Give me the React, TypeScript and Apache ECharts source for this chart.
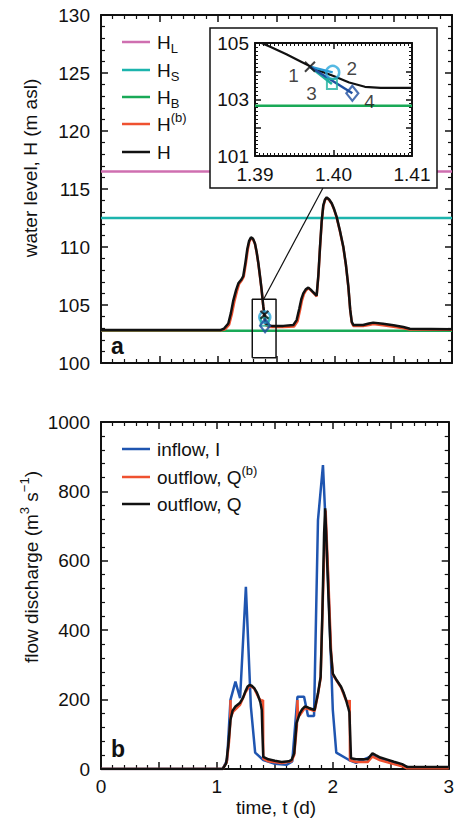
import React, { useEffect, useRef } from "react";
import * as echarts from "echarts";

const FONT = "'Liberation Sans', Arial, Helvetica, sans-serif";
const INK = "#111111";

// Colours
const C_HL = "#cf6fb0";
const C_HS = "#1cb4ad";
const C_HB = "#19a957";
const C_RED = "#ef5130";
const C_BLUE = "#1f55b0";
const C_CIRCLE = "#2aa8dc";
const C_SQUARE = "#1fb0a0";
const C_DIAMOND = "#1f4fa0";

// Reference levels (m asl)
const levelHL = 116.5;
const levelHS = 112.5;
const levelHB = 102.78;

// Water level H (black)
const hTime = [0, 1.02, 1.05, 1.088, 1.11, 1.131, 1.155, 1.174, 1.2, 1.216, 1.235, 1.25, 1.265, 1.282, 1.3, 1.316, 1.33, 1.345, 1.36, 1.373, 1.387, 1.397, 1.4, 1.405, 1.43, 1.459, 1.558, 1.644, 1.672, 1.695, 1.712, 1.729, 1.75, 1.772, 1.79, 1.809, 1.843, 1.858, 1.872, 1.886, 1.9, 1.915, 1.929, 1.95, 1.972, 1.993, 2.014, 2.04, 2.071, 2.093, 2.114, 2.13, 2.143, 2.157, 2.24, 2.29, 2.327, 2.41, 2.5, 2.584, 2.64, 3.0];
const hLevel = [102.84, 102.84, 102.95, 103.4, 104.3, 105.4, 106.3, 106.87, 107.2, 107.5, 108.7, 109.8, 110.5, 110.83, 110.7, 110.3, 109.6, 108.6, 107.4, 106.3, 104.9, 104.15, 103.9, 103.45, 103.25, 103.2, 103.2, 103.28, 103.7, 104.7, 105.5, 106.0, 106.35, 106.5, 106.35, 106.15, 105.8, 107.6, 110.03, 112.2, 113.6, 114.1, 114.28, 114.1, 113.77, 113.25, 112.6, 111.5, 110.03, 108.5, 106.6, 104.6, 103.56, 103.28, 103.28, 103.4, 103.48, 103.38, 103.25, 103.1, 102.95, 102.92];

// Water level H^(b) (red)
const hbTime = [0, 1.03, 1.06, 1.095, 1.118, 1.14, 1.162, 1.18, 1.205, 1.22, 1.24, 1.255, 1.268, 1.285, 1.3, 1.316, 1.33, 1.345, 1.36, 1.373, 1.387, 1.4, 1.41, 1.43, 1.459, 1.558, 1.65, 1.68, 1.7, 1.718, 1.735, 1.755, 1.775, 1.79, 1.809, 1.843, 1.858, 1.872, 1.886, 1.9, 1.915, 1.929, 1.95, 1.972, 1.993, 2.014, 2.04, 2.071, 2.093, 2.114, 2.13, 2.143, 2.157, 2.24, 2.29, 2.327, 2.41, 2.5, 2.584, 2.64, 3.0];
const hbLevel = [102.82, 102.82, 102.9, 103.3, 104.2, 105.3, 106.2, 106.8, 107.15, 107.45, 108.7, 109.8, 110.45, 110.78, 110.65, 110.25, 109.55, 108.55, 107.35, 106.25, 104.85, 103.75, 103.25, 103.12, 103.1, 103.1, 103.15, 103.6, 104.5, 105.4, 105.95, 106.3, 106.45, 106.3, 106.1, 105.75, 107.5, 109.95, 112.1, 113.5, 114.05, 114.22, 114.05, 113.72, 113.2, 112.55, 111.45, 109.98, 108.45, 106.55, 104.55, 103.5, 103.18, 103.18, 103.28, 103.36, 103.26, 103.12, 103.0, 102.88, 102.86];

// Detail of H around t = 1.40 d
const detailTime = [1.39, 1.392, 1.394, 1.396, 1.398, 1.4, 1.402, 1.404, 1.406, 1.41];
const detailLevel = [105.1, 104.86, 104.6, 104.32, 104.04, 103.83, 103.6, 103.45, 103.41, 103.41];

// Iteration points 1-4
const pointLabels = ["1", "2", "3", "4"];
const pointTime = [1.397, 1.3999, 1.3998, 1.4024];
const pointLevel = [104.16, 103.96, 103.55, 103.22];

// Zoom window and connector
const zoomTime = [1.293, 1.496];
const zoomLevel = [100.46, 105.5];
const connectorTime = [1.39, 1.897];
const connectorLevel = [105.5, 115.09];

// Inflow I (blue)
const iTime = [0, 1.05, 1.088, 1.117, 1.16, 1.2, 1.25, 1.293, 1.33, 1.4, 1.5, 1.6, 1.65, 1.695, 1.752, 1.786, 1.838, 1.872, 1.915, 1.958, 2.0, 2.03, 2.14, 2.2, 2.34, 2.45, 2.6, 2.65, 3.0];
const iFlow = [0, 0, 26, 199, 252, 204, 525, 180, 47, 26, 15, 12, 22, 208, 208, 153, 153, 717, 876, 560, 170, 47, 26, 18, 38, 25, 10, 5, 5];

// Outflow Q (black)
const qTime = [0, 1.05, 1.08, 1.097, 1.117, 1.135, 1.16, 1.2, 1.225, 1.245, 1.265, 1.282, 1.3, 1.322, 1.345, 1.359, 1.375, 1.387, 1.393, 1.4, 1.444, 1.5, 1.558, 1.62, 1.644, 1.667, 1.687, 1.715, 1.735, 1.758, 1.78, 1.8, 1.843, 1.872, 1.895, 1.91, 1.925, 1.934, 1.945, 1.957, 1.98, 2.0, 2.035, 2.071, 2.095, 2.114, 2.13, 2.143, 2.157, 2.2, 2.3, 2.342, 2.37, 2.41, 2.47, 2.527, 2.598, 2.64, 3.0];
const qFlow = [0, 0, 16, 64, 141, 168, 180, 191, 205, 223, 238, 242, 240, 233, 220, 208, 192, 170, 100, 35, 28, 24, 20, 22, 26, 45, 132, 160, 172, 180, 178, 175, 170, 218, 266, 450, 680, 751, 660, 545, 350, 275, 255, 237, 218, 199, 180, 164, 31, 28, 28, 45, 40, 33, 27, 21, 14, 6, 6];

// Outflow Q^(b) (red)
const qbTime = [0, 1.05, 1.085, 1.105, 1.115, 1.117, 1.12, 1.14, 1.16, 1.2, 1.245, 1.282, 1.322, 1.359, 1.387, 1.398, 1.4, 1.444, 1.558, 1.644, 1.667, 1.69, 1.695, 1.7, 1.715, 1.758, 1.8, 1.843, 1.872, 1.895, 1.915, 1.938, 1.96, 1.985, 2.0, 2.071, 2.114, 2.143, 2.146, 2.148, 2.2, 2.3, 2.342, 2.41, 2.527, 2.598, 2.64, 3.0];
const qbFlow = [0, 0, 20, 80, 130, 199, 150, 165, 172, 185, 220, 240, 232, 206, 195, 199, 30, 22, 17, 22, 40, 125, 199, 150, 155, 176, 172, 167, 215, 262, 500, 745, 560, 340, 272, 235, 198, 190, 199, 25, 20, 20, 36, 25, 14, 8, 2, 2];

const zip = (a: number[], b: number[]) => a.map((v, i) => [v, b[i]]);

const axisCommon = (z = 0) => ({
  type: "value" as const,
  z,
  axisLine: { show: true, onZero: false, lineStyle: { color: INK, width: 2 } },
  axisTick: { show: true, inside: true, length: 7, lineStyle: { color: INK, width: 1.5 } },
  minorTick: { show: true, length: 4, lineStyle: { color: INK, width: 1.2 } },
  splitLine: { show: false },
  minorSplitLine: { show: false },
  axisLabel: { show: false, color: INK, fontSize: 19, fontFamily: FONT },
});

const plainLabel = (margin: number) => ({
  show: true,
  color: INK,
  fontSize: 19,
  fontFamily: FONT,
  margin,
  formatter: (v: number) => String(v),
});

const hollow = (color: string, width = 2) => ({ color: "rgba(0,0,0,0)", borderColor: color, borderWidth: width });

const lineSeries = (data: number[][], color: string, xi: number, yi: number, width = 2.5, z = 2) => ({
  type: "line" as const,
  data,
  xAxisIndex: xi,
  yAxisIndex: yi,
  showSymbol: false,
  symbol: "none",
  lineStyle: { color, width },
  z,
  silent: true,
});

const markerSeries = (xi: number, yi: number, z: number, withLabels: boolean, size: number) => {
  const defs = [
    { symbol: "circle", size: size + 1, style: hollow(C_CIRCLE, 2.5), pos: "right", off: [1, -4] },
    { symbol: "rect", size: size - 2, style: hollow(C_SQUARE, 2), pos: "left", off: [-4, 10] },
    { symbol: "diamond", size: [size, size + 3], style: hollow(C_DIAMOND, 2.2), pos: "right", off: [0, 8] },
    { symbol: "path://M0,0L10,10M10,0L0,10", size: size - 2, style: { color: "rgba(0,0,0,0)", borderColor: INK, borderWidth: 2 }, pos: "left", off: [0, 9] },
  ];
  const order = [1, 2, 3, 0];
  return defs.map((d, k) => {
    const i = order[k];
    return {
      type: "scatter" as const,
      xAxisIndex: xi,
      yAxisIndex: yi,
      z,
      silent: true,
      symbol: d.symbol,
      symbolSize: d.size,
      itemStyle: d.style,
      data: [[pointTime[i], pointLevel[i]]],
      label: {
        show: withLabels,
        formatter: pointLabels[i],
        position: d.pos,
        offset: d.off,
        color: INK,
        fontSize: 19,
        fontFamily: FONT,
      },
    };
  });
};

const txt = { fill: INK, stroke: "none", lineWidth: 0, fontFamily: FONT, fontWeight: "normal" };

export default function App() {
  const ref = useRef<HTMLDivElement>(null);

  useEffect(() => {
    if (!ref.current) return;
    const chart = echarts.init(ref.current, null, { renderer: "svg" });

    const intLabel = (v: number) => (Math.abs(v - Math.round(v)) < 1e-6 ? String(Math.round(v)) : "");

    const richSub = {
      a: { fontSize: 19, fontFamily: FONT, fill: INK, lineHeight: 26, verticalAlign: "middle" },
      sub: { fontSize: 13, fontFamily: FONT, fill: INK, lineHeight: 26, verticalAlign: "bottom" },
      sup: { fontSize: 13, fontFamily: FONT, fill: INK, lineHeight: 26, verticalAlign: "top" },
    };

    const legendItem = (y: number, color: string, text: string) => [
      { type: "line", z: 10, shape: { x1: 122, y1: y, x2: 150, y2: y }, style: { stroke: color, lineWidth: 2.5 } },
      { type: "text", z: 10, x: 157, y, style: { text, rich: richSub, ...txt, fontSize: 19, verticalAlign: "middle", align: "left" } },
    ];

    const minor5 = { ...axisCommon().minorTick, splitNumber: 5 };
    const insetTick = { show: true, inside: true, length: 6, lineStyle: { color: INK, width: 1.5 } };

    const option: any = {
      animation: false,
      backgroundColor: "#ffffff",
      grid: [
        { left: 101, top: 15, width: 351, height: 348 },
        { left: 101, top: 422, width: 351, height: 347 },
        { left: 255, top: 43, width: 157, height: 113, z: 6 },
      ],
      xAxis: [
        { ...axisCommon(), gridIndex: 0, position: "bottom", min: 0, max: 3, interval: 0.5, minorTick: minor5 },
        { ...axisCommon(), gridIndex: 0, position: "top", min: 0, max: 3, interval: 0.5, minorTick: minor5 },
        {
          ...axisCommon(), gridIndex: 1, position: "bottom", min: 0, max: 3, interval: 0.5, minorTick: minor5,
          axisLabel: { ...plainLabel(8), formatter: intLabel },
        },
        { ...axisCommon(), gridIndex: 1, position: "top", min: 0, max: 3, interval: 0.5, minorTick: minor5 },
        {
          ...axisCommon(6), gridIndex: 2, position: "bottom", min: 1.39, max: 1.41, interval: 0.01,
          axisTick: insetTick,
          minorTick: { show: true, length: 3, splitNumber: 20, lineStyle: { color: INK, width: 1 } },
          axisLabel: { ...plainLabel(9), formatter: (v: number) => v.toFixed(2) },
        },
        {
          ...axisCommon(6), gridIndex: 2, position: "top", min: 1.39, max: 1.41, interval: 0.01,
          axisTick: insetTick,
          minorTick: { show: true, length: 3, splitNumber: 20, lineStyle: { color: INK, width: 1 } },
        },
      ],
      yAxis: [
        { ...axisCommon(), gridIndex: 0, position: "left", min: 100, max: 130, interval: 5, minorTick: minor5, axisLabel: plainLabel(11) },
        { ...axisCommon(), gridIndex: 0, position: "right", min: 100, max: 130, interval: 5, minorTick: minor5 },
        { ...axisCommon(), gridIndex: 1, position: "left", min: 0, max: 1000, interval: 200, minorTick: minor5, axisLabel: plainLabel(11) },
        { ...axisCommon(), gridIndex: 1, position: "right", min: 0, max: 1000, interval: 200, minorTick: minor5 },
        {
          ...axisCommon(6), gridIndex: 2, position: "left", min: 101, max: 105, interval: 1,
          axisTick: insetTick,
          minorTick: { show: true, length: 3, splitNumber: 7, lineStyle: { color: INK, width: 1 } },
          axisLabel: { ...plainLabel(6), formatter: (v: number) => (Math.round(v) % 2 === 1 ? String(v) : "") },
        },
        {
          ...axisCommon(6), gridIndex: 2, position: "right", min: 101, max: 105, interval: 1,
          axisTick: insetTick,
          minorTick: { show: true, length: 3, splitNumber: 7, lineStyle: { color: INK, width: 1 } },
        },
      ],
      graphic: [
        // inset frame
        { type: "rect", z: 4, shape: { x: 210, y: 28, width: 227, height: 160 }, style: { fill: "#ffffff", stroke: INK, lineWidth: 1.5 } },
        // axis titles
        { type: "text", z: 10, x: 30, y: 168, rotation: Math.PI / 2, style: { text: "water level, H (m asl)", ...txt, fontSize: 19, align: "center", verticalAlign: "middle" } },
        {
          type: "text", z: 10, x: 31, y: 567, rotation: Math.PI / 2,
          style: { text: "{a|flow discharge (m}{sup|3}{a| s}{sup|−1}{a|)}", rich: richSub, ...txt, fontSize: 19, align: "center", verticalAlign: "middle" },
        },
        { type: "text", z: 10, x: 276, y: 807, style: { text: "time, t (d)", ...txt, fontSize: 19, align: "center", verticalAlign: "middle" } },
        // panel letters
        { type: "text", z: 10, x: 111, y: 346, style: { text: "a", ...txt, fontSize: 23, fontWeight: "bold", align: "left", verticalAlign: "middle" } },
        { type: "text", z: 10, x: 111, y: 749, style: { text: "b", ...txt, fontSize: 23, fontWeight: "bold", align: "left", verticalAlign: "middle" } },
        // legend, panel a
        ...legendItem(42, C_HL, "{a|H}{sub|L}"),
        ...legendItem(70, C_HS, "{a|H}{sub|S}"),
        ...legendItem(97, C_HB, "{a|H}{sub|B}"),
        ...legendItem(124, C_RED, "{a|H}{sup|(b)}"),
        ...legendItem(152, INK, "{a|H}"),
        // legend, panel b
        ...legendItem(449, C_BLUE, "{a|inflow, I}"),
        ...legendItem(477, C_RED, "{a|outflow, Q}{sup|(b)}"),
        ...legendItem(504, INK, "{a|outflow, Q}"),
      ],
      series: [
        // panel a
        lineSeries([[0, levelHL], [3, levelHL]], C_HL, 0, 0, 2.5),
        lineSeries([[0, levelHS], [3, levelHS]], C_HS, 0, 0, 2.5),
        lineSeries([[0, levelHB], [3, levelHB]], C_HB, 0, 0, 2.5),
        lineSeries(zip(hbTime, hbLevel), C_RED, 0, 0, 2.5),
        lineSeries(zip(hTime, hLevel), INK, 0, 0, 2.5),
        lineSeries(
          [[zoomTime[0], zoomLevel[0]], [zoomTime[1], zoomLevel[0]], [zoomTime[1], zoomLevel[1]], [zoomTime[0], zoomLevel[1]], [zoomTime[0], zoomLevel[0]]],
          INK, 0, 0, 1.5, 3
        ),
        lineSeries(zip(connectorTime, connectorLevel), INK, 0, 0, 1.2, 3),
        ...markerSeries(0, 0, 3, false, 10),
        // panel b
        lineSeries(zip(iTime, iFlow), C_BLUE, 2, 2, 2.5),
        lineSeries(zip(qbTime, qbFlow), C_RED, 2, 2, 2.5),
        lineSeries(zip(qTime, qFlow), INK, 2, 2, 2.5),
        // inset
        lineSeries([[1.39, levelHB], [1.41, levelHB]], C_HB, 4, 4, 2.5, 6),
        lineSeries(zip(detailTime, detailLevel), INK, 4, 4, 2.2, 6),
        lineSeries([[pointTime[0], pointLevel[0]], [pointTime[1], pointLevel[1]]], "#2a9ad6", 4, 4, 2.5, 6),
        lineSeries([[pointTime[0], pointLevel[0]], [pointTime[2], pointLevel[2]]], C_SQUARE, 4, 4, 2.5, 6),
        lineSeries([[pointTime[0], pointLevel[0]], [pointTime[3], pointLevel[3]]], C_DIAMOND, 4, 4, 2.5, 6),
        ...markerSeries(4, 4, 7, true, 12),
      ],
    };

    chart.setOption(option);
    return () => chart.dispose();
  }, []);

  return <div ref={ref} style={{ position: "fixed", left: 0, top: 0, width: 457, height: 828, background: "#fff" }} />;
}
